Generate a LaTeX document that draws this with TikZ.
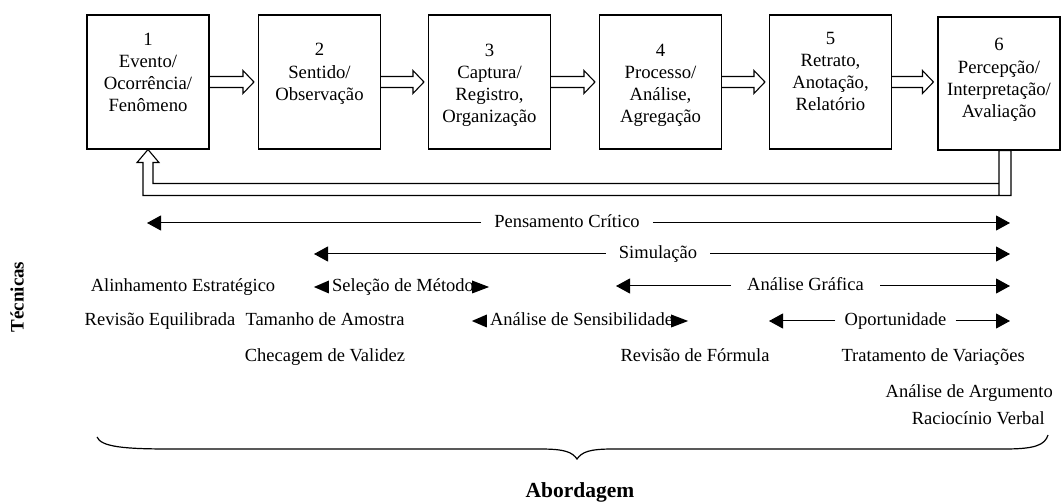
\documentclass[tikz,border=0pt]{standalone}
\usepackage{fontspec}
\setmainfont{Liberation Serif}
\usetikzlibrary{calc,arrows.meta}

\newcommand\flowarrow[2]{%
  \draw[blockline] let \p1=(#1.east), \p2=(#2.west) in
    (\x1,\y1+5.5pt) -- (\x2-15pt,\y1+5.5pt) -- (\x2-15pt,\y1+11.5pt)
    -- (\x2-4pt,\y1) -- (\x2-15pt,\y1-11.5pt) -- (\x2-15pt,\y1-5.5pt)
    -- (\x1,\y1-5.5pt);}
% small filled triangles flanking a label
\newcommand\lefttri[1]{%
  \fill let \p1=(#1.west) in (\x1-3pt,\y1+6.5pt) -- (\x1-3pt,\y1-6.5pt) -- (\x1-18pt,\y1) -- cycle;}
\newcommand\righttri[1]{%
  \fill let \p1=(#1.east) in (\x1-2pt,\y1+6.5pt) -- (\x1-2pt,\y1-6.5pt) -- (\x1+15pt,\y1) -- cycle;}

\begin{document}
\begin{tikzpicture}[x=1pt,y=-1pt,
  stage/.style={draw, line width=1.1pt, minimum width=122pt, minimum height=134pt, inner sep=0pt},
  stagetext/.style={align=center, inner sep=0pt, font=\fontsize{18.7}{22.2}\selectfont},
  blockline/.style={line width=1.1pt, line join=miter},
  lbl/.style={inner xsep=13pt, inner ysep=0pt, text height=13pt, text depth=4pt,
    font=\fontsize{18.5}{21.5}\selectfont},
  plain/.style={lbl, inner xsep=0pt},
  span/.style={line width=1pt, -{Triangle[length=14pt,width=15pt]}},
  heading/.style={inner sep=0pt, font=\bfseries\fontsize{19}{22}\selectfont}]
\useasboundingbox (0,0) rectangle (1061,502);

% process stages
\node[stage] (b1) at (148,82) {};
\node[stage] (b2) at (319.5,82) {};
\node[stage] (b3) at (489.5,82) {};
\node[stage] (b4) at (660.5,82) {};
\node[stage] (b5) at (830.5,82) {};
\node[stage, minimum height=133pt] (b6) at (999,83.5) {};

\node[stagetext] (t1) at (148,72.5) {1\\Evento/\\Ocorrência/\\Fenômeno};
\node[stagetext] (t2) at (319.5,74) {2\\Sentido/\\Observação};
\node[stagetext] (t3) at (489.5,85.5) {3\\Captura/\\Registro,\\Organização};
\node[stagetext] (t4) at (660.5,85.5) {4\\Processo/\\Análise,\\Agregação};
\node[stagetext] (t5) at (830.5,71.5) {5\\Retrato,\\Anotação,\\Relatório};
\node[stagetext] (t6) at (999,80) {6\\Percepção/\\Interpretação/\\Avaliação};

% block arrows between stages
\flowarrow{b1}{b2}
\flowarrow{b2}{b3}
\flowarrow{b3}{b4}
\flowarrow{b4}{b5}
\flowarrow{b5}{b6}

% feedback from stage 6 back to stage 1
\draw[blockline] let \p1=(b6.south), \p2=(b1.south) in
  (\x1,\y1) -- (\x1+12pt,\y1) -- (\x1+12pt,\y1-45pt) -- (\x2-5pt,\y1-45pt)
  -- (\x2-5pt,\y2-13pt) -- (\x2-11pt,\y2-13pt) -- (\x2,\y2) -- (\x2+11pt,\y2-13pt)
  -- (\x2+5pt,\y2-13pt) -- (\x2+5pt,\y1-33pt) -- (\x1,\y1-33pt)
  (\x1,\y1) -- (\x1,\y1-45pt);

% spans of the techniques
\node[lbl] (pc) at (567,223) {Pensamento Crítico};
\coordinate (pcL) at (147,223);
\coordinate (pcR) at (1010,223);
\draw[span] (pc.west) -- (pcL);
\draw[span] (pc.east) -- (pcR);

\node[lbl] (sim) at (658,254) {Simulação};
\coordinate (simL) at (314,254);
\coordinate (simR) at (1010,254);
\draw[span] (sim.west) -- (simL);
\draw[span] (sim.east) -- (simR);

\node[lbl, inner xsep=16pt] (ag) at (805.5,286) {Análise Gráfica};
\coordinate (agL) at (616,286);
\coordinate (agR) at (1010,286);
\draw[span] (ag.west) -- (agL);
\draw[span] (ag.east) -- (agR);

\node[lbl, inner xsep=9pt] (op) at (895.5,321) {Oportunidade};
\coordinate (opL) at (769,321);
\coordinate (opR) at (1010,321);
\draw[span] (op.west) -- (opL);
\draw[span] (op.east) -- (opR);

\node[plain] (sm) at (403,287) {Seleção de Método};
\lefttri{sm}
\righttri{sm}

\node[plain] (as) at (581.5,321) {Análise de Sensibilidade};
\lefttri{as}
\righttri{as}

% stand-alone techniques
\node[plain] (al) at (183,287) {Alinhamento Estratégico};
\node[plain] (re) at (160,321) {Revisão Equilibrada};
\node[plain] (ta) at (325,321) {Tamanho de Amostra};
\node[plain] (cv) at (325,357) {Checagem de Validez};
\node[plain] (rf) at (695,357) {Revisão de Fórmula};
\node[plain, anchor=east] (tv) at (1025,357) {Tratamento de Variações};
\node[plain, anchor=east] (aa) at (1053,393) {Análise de Argumento};
\node[plain, anchor=east] (rv) at (1045,420) {Raciocínio Verbal};

% axis labels
\node[heading, rotate=90] (tec) at (17,297) {Técnicas};
\draw[line width=1.2pt]
  (97,437) .. controls (101,447) and (125,449) .. (170,449) -- (540,449)
  .. controls (565,449) and (572,452) .. (577,459)
  .. controls (582,452) and (589,449) .. (613,449) -- (1005,449)
  .. controls (1035,449) and (1045,445) .. (1048,435);
\node[heading, font=\bfseries\fontsize{21.5}{24}\selectfont] (ab) at (580,492) {Abordagem};
\end{tikzpicture}
\end{document}
